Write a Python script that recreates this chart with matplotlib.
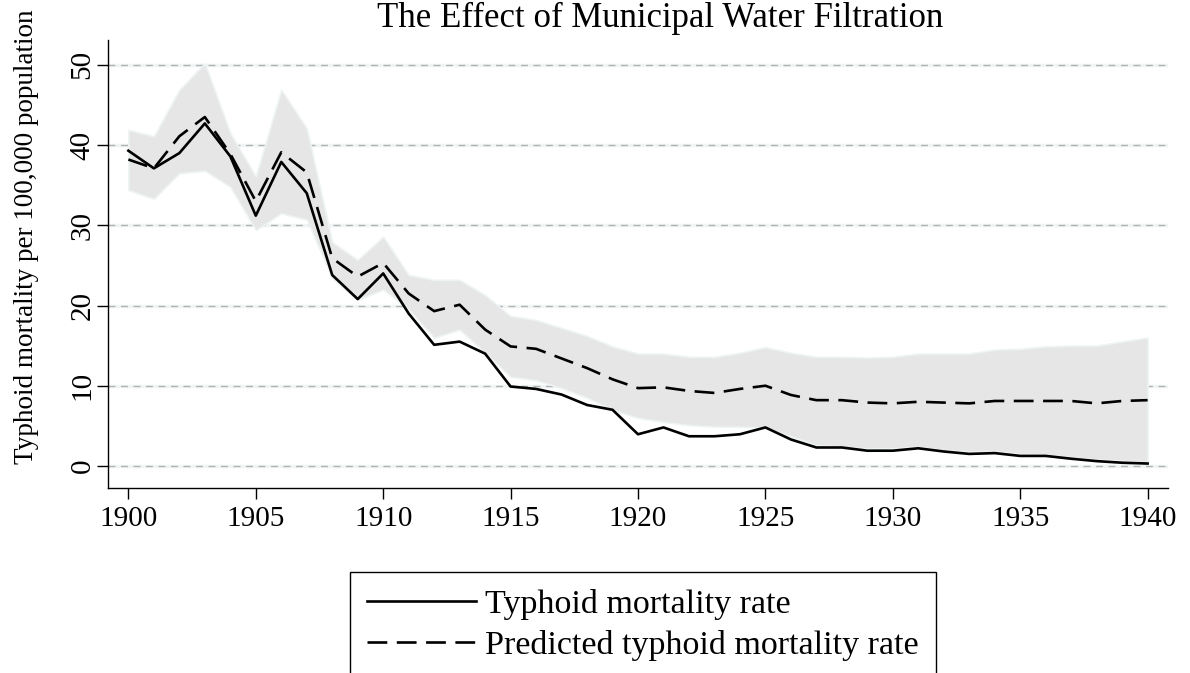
import matplotlib
matplotlib.use("Agg")
import matplotlib.pyplot as plt
from matplotlib.lines import Line2D

years = list(range(1900, 1941))
actual = [39.3, 37.1, 39.0, 42.7, 38.6, 31.2, 37.9, 34.0, 23.8, 20.8,
          24.0, 19.0, 15.1, 15.5, 14.0, 9.9, 9.6, 8.9, 7.6, 7.0,
          3.95, 4.8, 3.7, 3.7, 3.95, 4.8, 3.3, 2.3, 2.3, 1.9,
          1.9, 2.2, 1.8, 1.5, 1.6, 1.25, 1.25, 0.9, 0.6, 0.4, 0.3]
predicted = [38.2, 37.1, 41.1, 43.5, 38.9, 33.0, 39.1, 36.6, 25.9, 23.6,
             25.3, 21.5, 19.3, 20.1, 17.0, 14.9, 14.6, 13.4, 12.2, 10.8,
             9.7, 9.8, 9.35, 9.1, 9.6, 10.0, 8.85, 8.2, 8.2, 7.9,
             7.8, 8.0, 7.9, 7.8, 8.1, 8.1, 8.1, 8.1, 7.8, 8.1, 8.2]
upper = [41.9, 41.1, 46.9, 50.2, 41.5, 36.1, 46.9, 42.1, 27.9, 25.7,
         28.6, 23.8, 23.2, 23.2, 21.3, 18.7, 18.2, 17.2, 16.2, 14.9,
         14.0, 14.0, 13.6, 13.6, 14.1, 14.8, 14.1, 13.6, 13.6, 13.5,
         13.6, 14.0, 14.0, 14.0, 14.5, 14.6, 14.9, 15.0, 15.0, 15.5, 16.0]
lower = [34.4, 33.3, 36.5, 36.8, 34.8, 29.4, 31.5, 30.7, 23.4, 20.7,
         22.0, 19.5, 16.0, 17.0, 14.1, 11.1, 10.7, 9.7, 8.5, 7.0,
         6.0, 5.5, 5.1, 4.9, 4.9, 4.8, 3.7, 2.6, 2.4, 2.2,
         2.2, 2.4, 2.0, 1.8, 1.8, 1.5, 1.4, 1.1, 0.8, 0.65, 0.45]
x_ticks = [1900, 1905, 1910, 1915, 1920, 1925, 1930, 1935, 1940]
y_ticks = [0, 10, 20, 30, 40, 50]
title = "The Effect of Municipal Water Filtration"
ylabel = "Typhoid mortality per 100,000 population"
labels = ["Typhoid mortality rate", "Predicted typhoid mortality rate"]

plt.rcParams['font.family'] = ['Liberation Serif', 'DejaVu Serif']
FS_TICK = 21
FS_YLAB = 19.5
FS_TITLE = 25
FS_LEG = 24.5

fig = plt.figure(figsize=(11.9, 6.73), dpi=100)
ax = fig.add_axes([108/1190, 1-488/673, (1168-108)/1190, (488-40)/673])

ax.set_xlim(1899.2, 1940.8)
ax.set_ylim(-2.75, 53.1)

for yv in y_ticks:
    ax.axhline(yv, color='#f0f4f5', lw=2.5, zorder=0)
    ax.axhline(yv, color='#b0b4b4', lw=1.0, dashes=(5, 4), zorder=0.5)

ax.fill_between(years, lower, upper, facecolor='#e6e6e6', edgecolor='#eef3f3',
                lw=1.2, zorder=1)
ax.plot(years, actual, color='black', lw=1.9, zorder=3)
ax.plot(years, predicted, color='black', lw=1.9, dashes=(7.5, 3.6), zorder=3)

for s in ['top', 'right']:
    ax.spines[s].set_visible(False)
for s in ['left', 'bottom']:
    ax.spines[s].set_linewidth(1.0)

ax.set_xticks(x_ticks)
ax.set_yticks(y_ticks)
ax.tick_params(axis='both', direction='out', length=8, width=1.0, labelsize=FS_TICK)
ax.tick_params(axis='x', pad=5)
ax.tick_params(axis='y', pad=1)
for lab in ax.get_yticklabels():
    lab.set_rotation(90)
    lab.set_va('center')

fig.text(27/1190, 1-237/673, ylabel, rotation=90, ha='center', va='center',
         fontsize=FS_YLAB)
fig.text(660/1190, 1-18/673, title, ha='center', va='center', fontsize=FS_TITLE)

handles = [Line2D([], [], color='black', lw=1.9),
           Line2D([], [], color='black', lw=1.9, dashes=(7.5, 3.6))]
leg = fig.legend(handles, labels, loc='upper center',
                 bbox_to_anchor=(643/1190, 1-572/673), fontsize=FS_LEG,
                 frameon=True, fancybox=False, edgecolor='black',
                 framealpha=1, handlelength=3.2, handletextpad=0.28,
                 borderpad=0.5, labelspacing=0.3, borderaxespad=0)
leg.get_frame().set_linewidth(1.0)

fig.savefig('out.png', dpi=100)
